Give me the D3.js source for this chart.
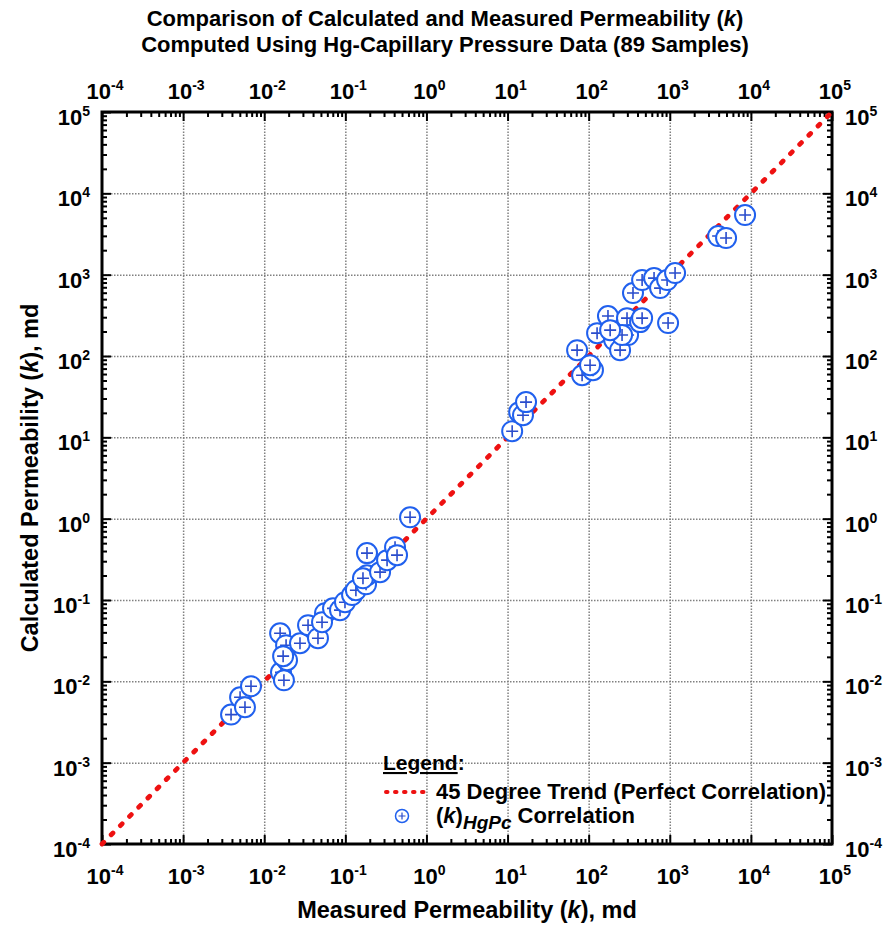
<!DOCTYPE html>
<html><head><meta charset="utf-8">
<script src="https://cdn.jsdelivr.net/npm/d3@7"></script>
<style>
html,body{margin:0;padding:0;background:#fff;}
text{font-family:"Liberation Sans",Arial,sans-serif;font-weight:bold;fill:#000;}
</style></head>
<body>
<svg id="chart" width="889" height="932"></svg>
<script>
// ---- data ----
const measured = [0.0039,0.00504,0.00579,0.00687,0.0157,0.0161,0.0175,0.0186,0.0191,0.0171,
  0.0276,0.0347,0.046,0.0562,0.0516,0.0705,0.086,0.099,0.121,0.135,
  0.18,0.185,0.165,0.268,0.327,0.185,0.41,0.434,0.628,
  11.4,13.9,15.5,16.9,
  72,83,113,104,127,173,206,244,297,306,258,430,456,352,456,640,759,927,1162,953,184,
  3945,4944,8478];
const calculated = [0.0039,0.00637,0.0048,0.0087,0.039,0.0129,0.0103,0.0278,0.0182,0.0204,
  0.0294,0.049,0.0339,0.0689,0.0533,0.079,0.075,0.094,0.115,0.132,
  0.156,0.202,0.185,0.22,0.309,0.377,0.446,0.356,1.04,
  11.9,20.4,18.7,27.1,
  118,58,67,77,191,310,157,118,292,181,181,261,292,594,859,908,684,859,1047,254,208,
  2985,2818,5410];
const decadeTicks = [1e-4,1e-3,1e-2,1e-1,1e0,1e1,1e2,1e3,1e4,1e5];
const tickExponents = ["-4","-3","-2","-1","0","1","2","3","4","5"];
const trendLine = [1e-4,1e5];
const titleLines = ["Comparison of Calculated and Measured Permeability (", "Computed Using Hg-Capillary Pressure Data (89 Samples)"];

// ---- layout ----
const svg = d3.select("#chart");
const L = 102, R = 832, T = 112, B = 844;
const x = d3.scaleLog().domain([1e-4,1e5]).range([L,R]);
const y = d3.scaleLog().domain([1e-4,1e5]).range([B,T]);
const minorTicks = [];
decadeTicks.slice(0,-1).forEach(d=>{for(let m=2;m<=9;m++) minorTicks.push(d*m);});

// grid
const grid = svg.append("g");
grid.append("g").attr("transform",`translate(0,${B})`)
  .call(d3.axisBottom(x).tickValues(decadeTicks.slice(1,-1)).tickSize(-(B-T)).tickFormat(""));
grid.append("g").attr("transform",`translate(${L},0)`)
  .call(d3.axisLeft(y).tickValues(decadeTicks.slice(1,-1)).tickSize(-(R-L)).tickFormat(""));
grid.selectAll(".domain").remove();
grid.selectAll("line").attr("stroke","#808080").attr("stroke-width",1.5).attr("stroke-dasharray","1.5,1.5");

// axes with inward ticks
function axisSet(axisFn, scale, tr){
  const g1 = svg.append("g").attr("transform",tr)
    .call(axisFn(scale).tickValues(decadeTicks).tickSize(-9).tickFormat(""));
  const g2 = svg.append("g").attr("transform",tr)
    .call(axisFn(scale).tickValues(minorTicks).tickSize(-5).tickFormat(""));
  [g1,g2].forEach(g=>{g.selectAll(".domain").remove(); g.selectAll("line").attr("stroke","#000").attr("stroke-width",2);});
}
axisSet(d3.axisBottom, x, `translate(0,${B})`);
axisSet(d3.axisTop, x, `translate(0,${T})`);
axisSet(d3.axisLeft, y, `translate(${L},0)`);
axisSet(d3.axisRight, y, `translate(${R},0)`);
svg.append("rect").attr("x",L).attr("y",T).attr("width",R-L).attr("height",B-T)
  .attr("fill","none").attr("stroke","#000").attr("stroke-width",3);

// tick labels
function powLabel(sel){
  sel.text("10").append("tspan").attr("dy",-9).attr("font-size",14).text((d,i)=>tickExponents[i]);
}
svg.append("g").selectAll("text").data(decadeTicks).join("text")
  .attr("x",d=>x(d)+3).attr("y",884).attr("text-anchor","middle").attr("font-size",22).call(powLabel);
svg.append("g").selectAll("text").data(decadeTicks).join("text")
  .attr("x",d=>x(d)+3).attr("y",99).attr("text-anchor","middle").attr("font-size",22).call(powLabel);
svg.append("g").selectAll("text").data(decadeTicks).join("text")
  .attr("x",90).attr("y",d=>y(d)+13).attr("text-anchor","end").attr("font-size",22).call(powLabel);
svg.append("g").selectAll("text").data(decadeTicks).join("text")
  .attr("x",845).attr("y",d=>y(d)+13).attr("text-anchor","start").attr("font-size",22).call(powLabel);

// titles
const t1 = svg.append("text").attr("x",445).attr("y",26).attr("text-anchor","middle").attr("font-size",22).text(titleLines[0]);
t1.append("tspan").attr("font-style","italic").text("k"); t1.append("tspan").text(")");
svg.append("text").attr("x",445).attr("y",52).attr("text-anchor","middle").attr("font-size",22).text(titleLines[1]);
const xt = svg.append("text").attr("x",467).attr("y",918).attr("text-anchor","middle").attr("font-size",23.5).text("Measured Permeability (");
xt.append("tspan").attr("font-style","italic").text("k"); xt.append("tspan").text("), md");
const yt = svg.append("text").attr("transform","translate(38,478) rotate(-90)").attr("text-anchor","middle").attr("font-size",23.5).text("Calculated Permeability (");
yt.append("tspan").attr("font-style","italic").text("k"); yt.append("tspan").text("), md");

// 45 degree trend
const red = "#ee1111";
svg.append("path").datum(trendLine)
  .attr("d", d3.line().x(d=>x(d)).y(d=>y(d)))
  .attr("stroke",red).attr("stroke-width",4.8).attr("stroke-linecap","round")
  .attr("stroke-dasharray","2.5,10.5").attr("fill","none");

// points
const blue = "#2060ee", plusBlue = "#2a4ccc";
const pts = svg.append("g").selectAll("g").data(measured.map((m,i)=>[m,calculated[i]])).join("g")
  .attr("transform",d=>`translate(${x(d[0])},${y(d[1])})`);
pts.append("circle").attr("r",10).attr("fill","#fff").attr("stroke",blue).attr("stroke-width",2);
pts.append("path").attr("d","M-6,0H6M0,-6V6").attr("stroke",plusBlue).attr("stroke-width",1.6);

// legend
const lg = svg.append("g");
const lh = lg.append("text").attr("x",383).attr("y",770).attr("font-size",21);
lh.append("tspan").attr("text-decoration","underline").text("Legend");
lh.append("tspan").text(":");
lg.append("line").attr("x1",386).attr("x2",431).attr("y1",792).attr("y2",792)
  .attr("stroke",red).attr("stroke-width",4).attr("stroke-linecap","round").attr("stroke-dasharray","1.5,7.5");
lg.append("text").attr("x",436).attr("y",799).attr("font-size",22).text("45 Degree Trend (Perfect Correlation)");
const lsym = lg.append("g").attr("transform","translate(402,816)");
lsym.append("circle").attr("r",6.5).attr("fill","#fff").attr("stroke",blue).attr("stroke-width",1.5);
lsym.append("path").attr("d","M-3.5,0H3.5M0,-3.5V3.5").attr("stroke",plusBlue).attr("stroke-width",1.2);
const lt = lg.append("text").attr("x",436).attr("y",823).attr("font-size",22).text("(");
lt.append("tspan").attr("font-style","italic").text("k");
lt.append("tspan").text(")");
lt.append("tspan").attr("font-style","italic").attr("font-size",19).attr("dy",6).text("HgPc");
lt.append("tspan").attr("dy",-6).text(" Correlation");
</script>
</body></html>
